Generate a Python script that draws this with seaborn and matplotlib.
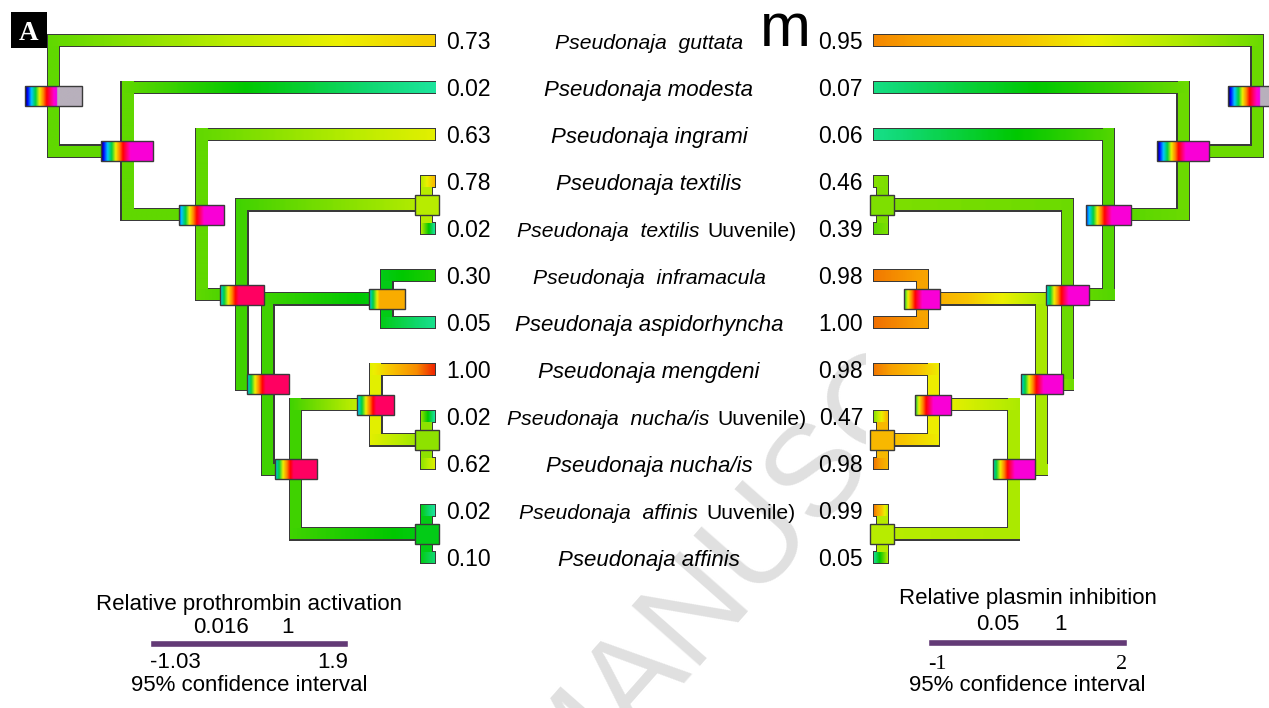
import numpy as np
import matplotlib
matplotlib.use("Agg")
import matplotlib.pyplot as plt
import seaborn as sns
from matplotlib.colors import LinearSegmentedColormap, Normalize
from matplotlib.patches import Rectangle

sns.set_theme(style="white")
plt.rcParams["font.family"] = ["Liberation Sans", "DejaVu Sans"]
plt.rcParams["text.color"] = "black"

# ---- data ----
species_italic = ["Pseudonaja  guttata", "Pseudonaja modesta", "Pseudonaja ingrami",
                  "Pseudonaja textilis", "Pseudonaja  textilis", "Pseudonaja  inframacula",
                  "Pseudonaja aspidorhyncha", "Pseudonaja mengdeni", "Pseudonaja  nucha/is",
                  "Pseudonaja nucha/is", "Pseudonaja  affinis", "Pseudonaja affinis"]
species_suffix = ["", "", "", "", "Uuvenile)", "", "", "", "Uuvenile)", "", "Uuvenile)", ""]
prothrombin = [0.73, 0.02, 0.63, 0.78, 0.02, 0.30, 0.05, 1.00, 0.02, 0.62, 0.02, 0.10]
plasmin = [0.95, 0.07, 0.06, 0.46, 0.39, 0.98, 1.00, 0.98, 0.47, 0.98, 0.99, 0.05]

nodes = ["root", "n1", "n2", "n3", "n4", "n5", "tex", "inf", "men", "nuc", "aff"]
children = {"root": [0, "n1"], "n1": [1, "n2"], "n2": [2, "n3"], "n3": ["tex", "n4"],
            "n4": ["inf", "n5"], "n5": ["men", "aff"], "tex": [3, 4], "inf": [5, 6],
            "men": [7, "nuc"], "nuc": [8, 9], "aff": [10, 11]}
node_depth = [1.0, 0.807, 0.612, 0.506, 0.438, 0.365, 0.022, 0.126, 0.155, 0.022, 0.022]

nan, inf = np.nan, np.inf
pro_node = [0.40, 0.40, 0.40, 0.35, 0.35, 0.35, 0.55, 0.22, 0.63, 0.48, 0.22]
pro_ci_lo = [-1.0, -1.0, -0.75, -0.6, -0.6, -0.6, nan, -0.6, -0.65, nan, nan]
pro_ci_hi = [2.6, 2.25, 2.1, 2.1, 2.0, 2.0, nan, 1.6, 1.65, nan, nan]
pro_ci_cap = [inf, 0.85, 0.85, 0.55, 0.55, 0.55, nan, 0.05, 0.55, nan, nan]

pla_node = [0.42, 0.42, 0.38, 0.42, 0.52, 0.53, 0.45, 0.88, 0.66, 0.80, 0.55]
pla_ci_lo = [-1.0, -1.0, -0.8, -0.6, -0.6, -0.55, nan, -0.35, -0.35, nan, nan]
pla_ci_hi = [2.6, 2.25, 2.05, 2.1, 2.0, 2.05, nan, 1.9, 1.9, nan, nan]
pla_ci_cap = [inf, 0.85, 0.85, 0.85, 0.85, 0.85, nan, 0.85, 0.85, nan, nan]

pro_scale = (-1.03, 1.9)
pro_marks = [0.016, 1]
pro_ends = ["-1.03", "1.9"]
pla_scale = (-1, 2)
pla_marks = [0.05, 1]
pla_ends = ["-1", "2"]

# ---- layout (pixels) ----
W, H = 1269, 708
ROW0, ROW_H = 40.5, 47.0
BRANCH, OUT = 11, 1.2
BOX_H, BOX_PX, TERM_W = 20, 16, 24
EDGE = "#3a3a3a"
PURPLE = "#633a76"
FS = 16.5

stops = [(0.0, "#20e8a8"), (0.1, "#10d870"), (0.25, "#00c800"), (0.4, "#60d800"),
         (0.55, "#b8ec00"), (0.65, "#ecf000"), (0.75, "#f8c400")]
cmap_pro = LinearSegmentedColormap.from_list("pro", stops + [(0.9, "#f88c00"), (1.0, "#f02800")])
cmap_pla = LinearSegmentedColormap.from_list("pla", stops + [(0.9, "#f8a000"), (1.0, "#f07000")])
box_cmap = LinearSegmentedColormap.from_list("ci", [
    (0.0, "#000040"), (0.075, "#0000ff"), (0.2, "#00c8ff"), (0.325, "#00d040"),
    (0.45, "#f0f000"), (0.575, "#ff8000"), (0.675, "#ff0000"), (0.775, "#ff0060"),
    (0.9, "#ff00d0"), (1.0, "#e800e8")])
box_cmap.set_over("#b8b0bc")
box_norm = Normalize(-1, 1)

fig = plt.figure(figsize=(W / 100, H / 100), dpi=100)
fig.patch.set_facecolor("white")


def row_of(n):
    if isinstance(n, int):
        return float(n)
    return float(np.mean([row_of(c) for c in children[n]]))


def depth_of(n):
    return 0.0 if isinstance(n, int) else node_depth[nodes.index(n)]


def tree_axes(root_px, tip_px):
    ax = fig.add_axes([0, 0, 1, 1])
    span = root_px - tip_px
    lims = (-tip_px / span, (W - tip_px) / span)
    ax.set_axis_off()
    return ax, abs(span), lims


def draw_tree(ax, ppu, lims, node_val, tip_val, lo, hi, cap, cmap):
    sx, sy = 1.0 / ppu, 1.0 / ROW_H
    flip = lims[0] > lims[1]

    def val(n):
        return tip_val[n] if isinstance(n, int) else node_val[nodes.index(n)]

    segs = []
    for n in nodes:
        d, v = depth_of(n), val(n)
        rows = [row_of(c) for c in children[n]]
        segs.append((d - BRANCH / 2 * sx, d + BRANCH / 2 * sx,
                     min(rows) - BRANCH / 2 * sy, max(rows) + BRANCH / 2 * sy, v, v))
        for c in children[n]:
            r = row_of(c)
            segs.append((d + BRANCH / 2 * sx, depth_of(c),
                         r - BRANCH / 2 * sy, r + BRANCH / 2 * sy, v, val(c)))

    for x0, x1, y0, y1, _, _ in segs:
        ax.add_patch(Rectangle((min(x0, x1) - OUT * sx, y0 - OUT * sy),
                               abs(x1 - x0) + 2 * OUT * sx, (y1 - y0) + 2 * OUT * sy,
                               fc=EDGE, ec="none", zorder=1))
    for x0, x1, y0, y1, v0, v1 in segs:
        ax.imshow(cmap(np.linspace(v0, v1, 96))[np.newaxis], extent=(x0, x1, y1, y0),
                  aspect="auto", interpolation="bilinear", zorder=2)

    for i, n in enumerate(nodes):
        d, r = depth_of(n), row_of(n)
        if np.isnan(lo[i]):
            w = TERM_W * sx
            ax.add_patch(Rectangle((d - w / 2, r - BOX_H / 2 * sy), w, BOX_H * sy,
                                   fc=cmap(node_val[i]), ec=EDGE, lw=1.0, zorder=4))
            continue
        w = (hi[i] - lo[i]) * BOX_PX * sx
        vals = np.minimum(np.linspace(lo[i], hi[i], 240), cap[i])
        rgba = box_cmap(box_norm(vals))[np.newaxis]
        xl, xr = (d + w / 2, d - w / 2) if flip else (d - w / 2, d + w / 2)
        ax.imshow(rgba, extent=(xl, xr, r + BOX_H / 2 * sy, r - BOX_H / 2 * sy),
                  aspect="auto", interpolation="bilinear", zorder=3)
        ax.add_patch(Rectangle((d - w / 2, r - BOX_H / 2 * sy), w, BOX_H * sy,
                               fill=False, ec=EDGE, lw=1.0, zorder=4))

    ax.set_xlim(*lims)
    ax.set_ylim((H - ROW0) / ROW_H, -ROW0 / ROW_H)


axL, ppuL, limL = tree_axes(53.5, 435)
draw_tree(axL, ppuL, limL, pro_node, prothrombin, pro_ci_lo, pro_ci_hi, pro_ci_cap, cmap_pro)
axR, ppuR, limR = tree_axes(1257, 874)
draw_tree(axR, ppuR, limR, pla_node, plasmin, pla_ci_lo, pla_ci_hi, pla_ci_cap, cmap_pla)

# ---- text overlay ----
ov = fig.add_axes([0, 0, 1, 1], zorder=5)
ov.set_xlim(0, W)
ov.set_ylim(H, 0)
ov.set_axis_off()

wm = ov.text(560, 812, "MANUSCRIPT", rotation=48.6, rotation_mode="anchor",
             ha="left", va="baseline", fontsize=94, color="#e0e0e0", zorder=0, clip_on=True)
wm.set_clip_path(Rectangle((500, 0), 366, H, transform=ov.transData))

renderer = fig.canvas.get_renderer()
base_off = 0.716 * FS * 100 / 72 / 2
for i in range(len(prothrombin)):
    y = ROW0 + ROW_H * i + base_off
    ov.text(446, y, f"{prothrombin[i]:.2f}", ha="left", va="baseline", fontsize=FS)
    ov.text(863, y, f"{plasmin[i]:.2f}", ha="right", va="baseline", fontsize=FS)
    fs = 15.2 if "  " in species_italic[i] else 16
    t1 = ov.text(0, y, species_italic[i], style="italic", ha="left", va="baseline", fontsize=fs)
    w1 = t1.get_window_extent(renderer).width
    w2, gap, centre = 0.0, 0.0, 649
    t2 = None
    if species_suffix[i]:
        t2 = ov.text(0, y, species_suffix[i], ha="left", va="baseline", fontsize=fs)
        w2, gap, centre = t2.get_window_extent(renderer).width, 8.0, 657
    start = centre - (w1 + gap + w2) / 2
    t1.set_x(start)
    if t2 is not None:
        t2.set_x(start + w1 + gap)

# panel letter and stray glyph
ov.add_patch(Rectangle((11, 12), 36, 36, fc="black", ec="none", zorder=6))
ov.text(29, 40, "A", ha="center", va="baseline", fontsize=19.5, fontweight="bold",
        family=["Liberation Serif", "DejaVu Serif"], color="white", zorder=7)
ov.text(785, 46, "m", ha="center", va="baseline", fontsize=44)


def legend(x0, x1, scale, marks, ends, title, ys, end_family):
    lax = fig.add_axes([x0 / W, 0, (x1 - x0) / W, 1], zorder=6)
    lax.set_xlim(*scale)
    lax.set_ylim(H, 0)
    lax.set_axis_off()
    lo, hi = scale
    mid = (lo + hi) / 2
    lax.barh(ys[2], hi - lo, left=lo, height=7, color=PURPLE)
    lax.text(mid, ys[0], title, ha="center", va="baseline", fontsize=16)
    for m in marks:
        lax.text(m, ys[1], f"{m:g}", ha="center", va="baseline", fontsize=16)
    lax.text(lo, ys[3], ends[0], ha="left", va="baseline", fontsize=16, family=end_family)
    lax.text(hi, ys[3], ends[1], ha="right", va="baseline", fontsize=16, family=end_family)
    lax.text(mid, ys[4], "95% confidence interval", ha="center", va="baseline", fontsize=16)


legend(150, 348, pro_scale, pro_marks, pro_ends, "Relative prothrombin activation",
       (610, 633, 643.5, 668, 691), ["Liberation Sans", "DejaVu Sans"])
legend(928, 1127, pla_scale, pla_marks, pla_ends, "Relative plasmin inhibition",
       (604, 630, 642.5, 669, 691), ["Liberation Serif", "DejaVu Serif"])

plt.savefig("out.png", dpi=100)
